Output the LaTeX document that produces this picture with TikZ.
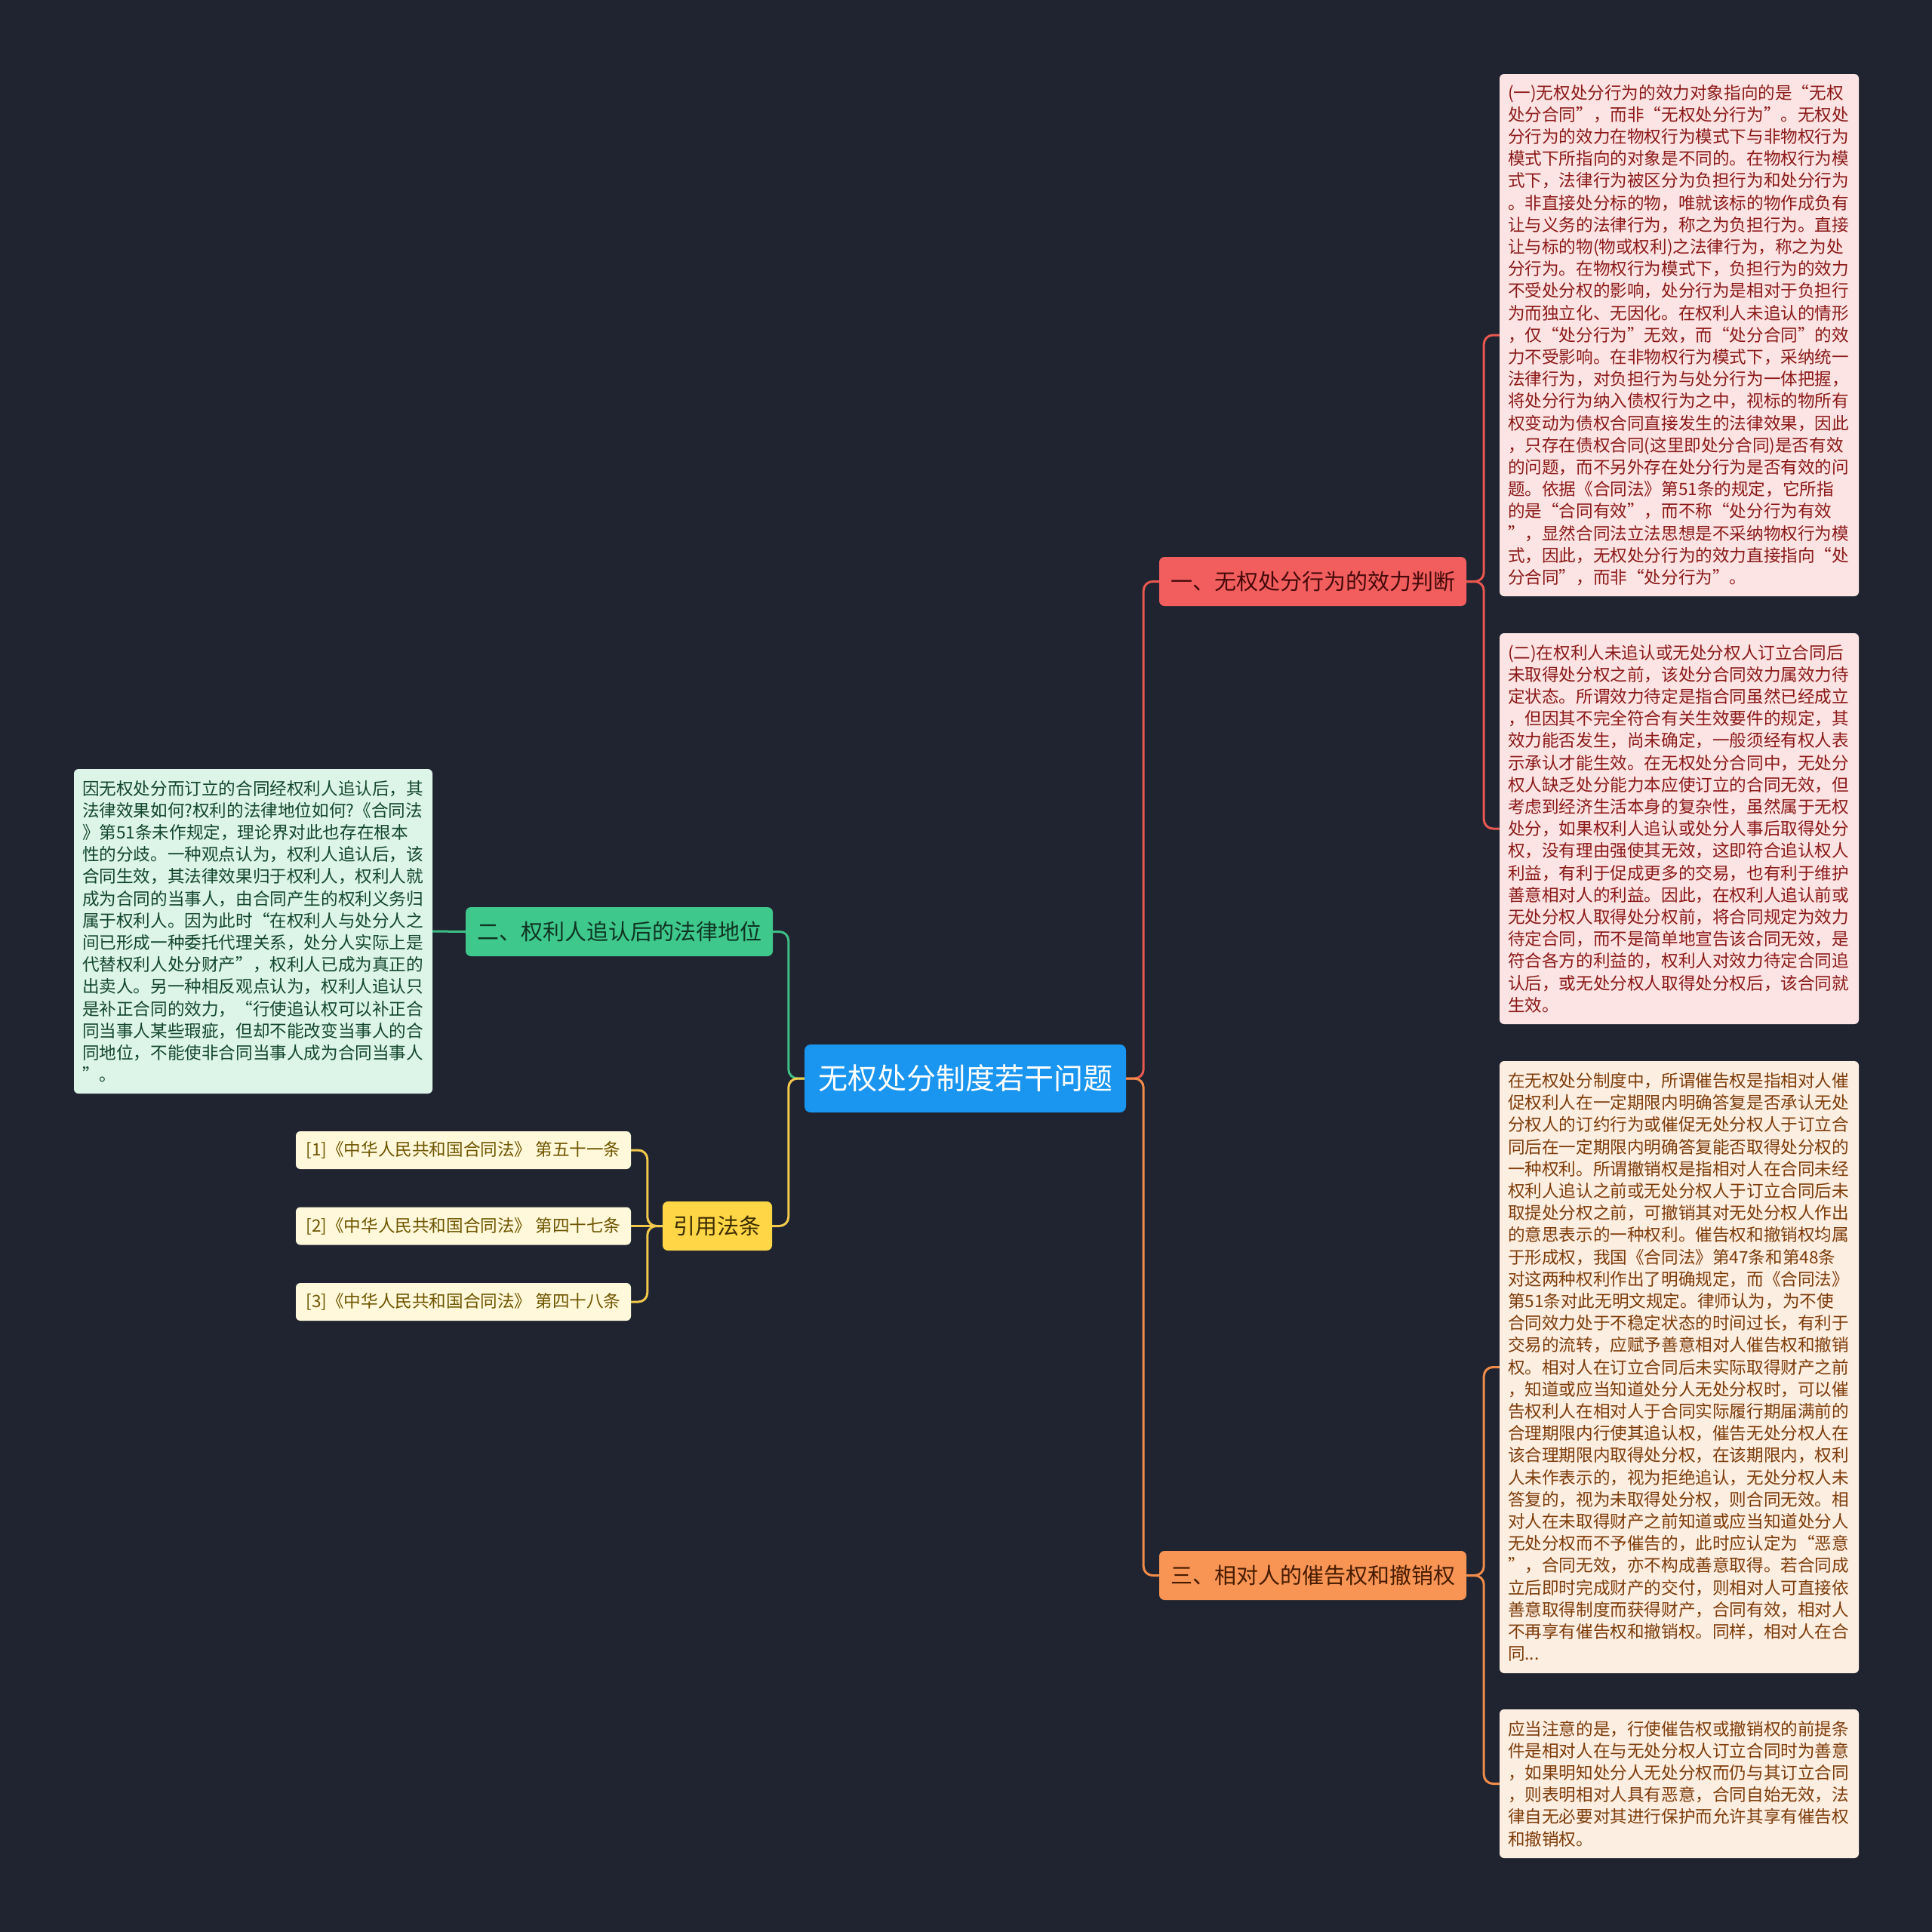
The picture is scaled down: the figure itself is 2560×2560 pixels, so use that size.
\documentclass[tikz,border=0pt]{standalone}
\usepackage{fontspec}
\setmainfont{Noto Sans CJK SC}
\definecolor{bg}{RGB}{32,36,48}
\definecolor{cfill}{RGB}{26,150,240}
\definecolor{rfill}{RGB}{242,94,94}
\definecolor{rtext}{RGB}{70,10,10}
\definecolor{rline}{RGB}{232,88,80}
\definecolor{ofill}{RGB}{248,148,84}
\definecolor{otext}{RGB}{70,28,0}
\definecolor{oline}{RGB}{240,140,74}
\definecolor{gfill}{RGB}{63,200,140}
\definecolor{gtext}{RGB}{14,52,34}
\definecolor{gline}{RGB}{61,190,133}
\definecolor{yfill}{RGB}{255,214,70}
\definecolor{ytext}{RGB}{60,45,0}
\definecolor{yline}{RGB}{242,201,76}
\definecolor{pinkfill}{RGB}{252,228,228}
\definecolor{pinktext}{RGB}{140,25,25}
\definecolor{peachfill}{RGB}{253,238,226}
\definecolor{peachtext}{RGB}{125,60,10}
\definecolor{mintfill}{RGB}{220,245,232}
\definecolor{minttext}{RGB}{20,70,45}
\definecolor{creamfill}{RGB}{255,248,218}
\definecolor{creamtext}{RGB}{110,85,0}
\newcommand\leaffont{\fontsize{22.6pt}{29.2pt}\selectfont}
\newcommand\branchfont{\fontsize{29pt}{34pt}\selectfont}
\newcommand\rootfont{\fontsize{39pt}{46pt}\selectfont}
\begin{document}
\begin{tikzpicture}[x=1pt,y=-1pt,
  leaf/.style={rounded corners=6pt, inner xsep=11pt, inner ysep=0pt, text width=454pt, align=left, font=\leaffont},
  branchbox/.style={rounded corners=7pt, inner sep=0pt, minimum height=65pt, font=\branchfont},
  citebox/.style={rounded corners=6pt, inner sep=0pt, minimum width=444pt, minimum height=50pt, font=\leaffont, fill=creamfill, text=creamtext},
  conn/.style={line width=3pt, rounded corners=12pt}
]
\useasboundingbox (0,0) rectangle (2560,2560);
\fill[bg] (0,0) rectangle (2560,2560);

% root
\node[rounded corners=8pt, inner sep=0pt, minimum width=426pt, minimum height=90pt, fill=cfill, text=white, font=\rootfont] (root) at (1279,1429) {无权处分制度若干问题};

% branches
\node[branchbox, minimum width=407pt, fill=rfill, text=rtext] (b1) at (1739.5,770.5) {一、无权处分行为的效力判断};
\node[branchbox, minimum width=407pt, fill=ofill, text=otext] (b3) at (1739.5,2087.5) {三、相对人的催告权和撤销权};
\node[branchbox, minimum width=407pt, fill=gfill, text=gtext] (b2) at (820.5,1234.5) {二、权利人追认后的法律地位};
\node[branchbox, minimum width=145pt, fill=yfill, text=ytext] (b4) at (950.5,1624.5) {引用法条};

% leaves of branch 1
\node[leaf, fill=pinkfill, text=pinktext, minimum height=692pt] (la) at (2225,444) {(一)无权处分行为的效力对象指向的是“无权\\处分合同”，而非“无权处分行为”。无权处\\分行为的效力在物权行为模式下与非物权行为\\模式下所指向的对象是不同的。在物权行为模\\式下，法律行为被区分为负担行为和处分行为\\。非直接处分标的物，唯就该标的物作成负有\\让与义务的法律行为，称之为负担行为。直接\\让与标的物(物或权利)之法律行为，称之为处\\分行为。在物权行为模式下，负担行为的效力\\不受处分权的影响，处分行为是相对于负担行\\为而独立化、无因化。在权利人未追认的情形\\，仅“处分行为”无效，而“处分合同”的效\\力不受影响。在非物权行为模式下，采纳统一\\法律行为，对负担行为与处分行为一体把握，\\将处分行为纳入债权行为之中，视标的物所有\\权变动为债权合同直接发生的法律效果，因此\\，只存在债权合同(这里即处分合同)是否有效\\的问题，而不另外存在处分行为是否有效的问\\题。依据《合同法》第51条的规定，它所指\\的是“合同有效”，而不称“处分行为有效\\”，显然合同法立法思想是不采纳物权行为模\\式，因此，无权处分行为的效力直接指向“处\\分合同”，而非“处分行为”。};
\node[leaf, fill=pinkfill, text=pinktext, minimum height=518pt] (lb) at (2225,1098) {(二)在权利人未追认或无处分权人订立合同后\\未取得处分权之前，该处分合同效力属效力待\\定状态。所谓效力待定是指合同虽然已经成立\\，但因其不完全符合有关生效要件的规定，其\\效力能否发生，尚未确定，一般须经有权人表\\示承认才能生效。在无权处分合同中，无处分\\权人缺乏处分能力本应使订立的合同无效，但\\考虑到经济生活本身的复杂性，虽然属于无权\\处分，如果权利人追认或处分人事后取得处分\\权，没有理由强使其无效，这即符合追认权人\\利益，有利于促成更多的交易，也有利于维护\\善意相对人的利益。因此，在权利人追认前或\\无处分权人取得处分权前，将合同规定为效力\\待定合同，而不是简单地宣告该合同无效，是\\符合各方的利益的，权利人对效力待定合同追\\认后，或无处分权人取得处分权后，该合同就\\生效。};

% leaves of branch 3
\node[leaf, fill=peachfill, text=peachtext, minimum height=811pt] (lc) at (2225,1811.5) {在无权处分制度中，所谓催告权是指相对人催\\促权利人在一定期限内明确答复是否承认无处\\分权人的订约行为或催促无处分权人于订立合\\同后在一定期限内明确答复能否取得处分权的\\一种权利。所谓撤销权是指相对人在合同未经\\权利人追认之前或无处分权人于订立合同后未\\取提处分权之前，可撤销其对无处分权人作出\\的意思表示的一种权利。催告权和撤销权均属\\于形成权，我国《合同法》第47条和第48条\\对这两种权利作出了明确规定，而《合同法》\\第51条对此无明文规定。律师认为，为不使\\合同效力处于不稳定状态的时间过长，有利于\\交易的流转，应赋予善意相对人催告权和撤销\\权。相对人在订立合同后未实际取得财产之前\\，知道或应当知道处分人无处分权时，可以催\\告权利人在相对人于合同实际履行期届满前的\\合理期限内行使其追认权，催告无处分权人在\\该合理期限内取得处分权，在该期限内，权利\\人未作表示的，视为拒绝追认，无处分权人未\\答复的，视为未取得处分权，则合同无效。相\\对人在未取得财产之前知道或应当知道处分人\\无处分权而不予催告的，此时应认定为“恶意\\”，合同无效，亦不构成善意取得。若合同成\\立后即时完成财产的交付，则相对人可直接依\\善意取得制度而获得财产，合同有效，相对人\\不再享有催告权和撤销权。同样，相对人在合\\同...};
\node[leaf, fill=peachfill, text=peachtext, minimum height=197pt] (ld) at (2225,2363.5) {应当注意的是，行使催告权或撤销权的前提条\\件是相对人在与无处分权人订立合同时为善意\\，如果明知处分人无处分权而仍与其订立合同\\，则表明相对人具有恶意，合同自始无效，法\\律自无必要对其进行保护而允许其享有催告权\\和撤销权。};

% leaf of branch 2
\node[leaf, text width=453pt, fill=mintfill, text=minttext, minimum height=430pt] (le) at (335.5,1234) {因无权处分而订立的合同经权利人追认后，其\\法律效果如何?权利的法律地位如何?《合同法\\》第51条未作规定，理论界对此也存在根本\\性的分歧。一种观点认为，权利人追认后，该\\合同生效，其法律效果归于权利人，权利人就\\成为合同的当事人，由合同产生的权利义务归\\属于权利人。因为此时“在权利人与处分人之\\间已形成一种委托代理关系，处分人实际上是\\代替权利人处分财产”，权利人已成为真正的\\出卖人。另一种相反观点认为，权利人追认只\\是补正合同的效力，“行使追认权可以补正合\\同当事人某些瑕疵，但却不能改变当事人的合\\同地位，不能使非合同当事人成为合同当事人\\”。};

% citations
\node[citebox] (c1) at (614,1524) {[1]《中华人民共和国合同法》 第五十一条};
\node[citebox] (c2) at (614,1624.5) {[2]《中华人民共和国合同法》 第四十七条};
\node[citebox] (c3) at (614,1725) {[3]《中华人民共和国合同法》 第四十八条};

% connectors right side
\draw[conn, rline] (root.east) -- ++(23,0) |- (b1.west);
\draw[conn, oline] (root.east) -- ++(23,0) |- (b3.west);
\draw[conn, rline] (b1.east) -- ++(23,0) |- (la.west);
\draw[conn, rline] (b1.east) -- ++(23,0) |- (lb.west);
\draw[conn, oline] (b3.east) -- ++(23,0) |- (lc.west);
\draw[conn, oline] (b3.east) -- ++(23,0) |- (ld.west);

% connectors left side
\draw[conn, gline] (root.west) -- ++(-21,0) |- (b2.east);
\draw[conn, yline] (root.west) -- ++(-21,0) |- (b4.east);
\draw[conn, gline] (b2.west) -- (le.east);
\draw[conn, yline] (b4.west) -- ++(-20,0) |- (c1.east);
\draw[conn, yline] (b4.west) -- ++(-20,0) |- (c3.east);
\draw[conn, yline] (b4.west) -- (c2.east);
\end{tikzpicture}
\end{document}
